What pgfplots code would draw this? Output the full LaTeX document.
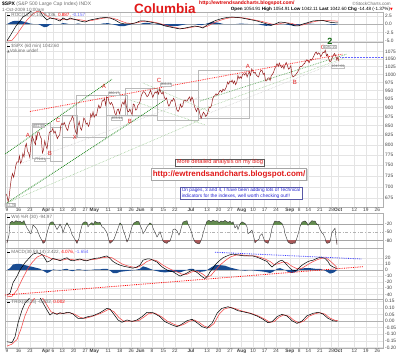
\documentclass[border=0pt]{standalone}
\usepackage{pgfplots}
\usepackage{pgfplotstable}
\pgfplotsset{compat=1.18}
\usetikzlibrary{shadows}
\usepackage{fontspec}
\setmainfont{Liberation Sans}
\newfontfamily\dejavu{DejaVu Sans}

\definecolor{gridc}{RGB}{228,228,228}
\definecolor{framec}{RGB}{175,175,175}
\definecolor{pricec}{RGB}{150,25,25}
\definecolor{navy}{RGB}{25,75,145}
\definecolor{wrgreen}{RGB}{100,140,80}
\definecolor{wrred}{RGB}{170,90,90}
\definecolor{dgreen}{RGB}{20,130,20}
\definecolor{lgreen}{RGB}{130,190,120}
\definecolor{sigred}{RGB}{245,70,70}
\definecolor{txtgray}{RGB}{110,110,110}
\definecolor{ann}{RGB}{225,25,25}
\definecolor{bluetxt}{RGB}{40,40,210}

\newcommand{\tfs}{\fontsize{4.8}{5}\selectfont}
\newcommand{\lfs}{\fontsize{4.6}{5}\selectfont}

\pgfplotsset{
  panel/.style={
    scale only axis, width=378pt, xmin=5, xmax=383,
    anchor=south west,
    axis line style={framec, line width=0.4pt},
    xtick={7,18.5,30,46.1,53,62.2,73.7,85.2,94.4,108.2,119.7,131.2,140.4,151.9,163.4,174.9,191,207.1,218.6,230.1,241.6,253.1,264.6,276.1,289.9,299.1,308.3,319.8,331.3,338.2,354.3,365.8,377.3},
    xticklabels={},
    major tick length=0pt,
    xmajorgrids, ymajorgrids,
    grid style={gridc, line width=0.35pt},
    yticklabel pos=right,
    tick label style={font=\tfs, text=black!75},
    yticklabel style={inner sep=1pt, xshift=1pt},
    xticklabel style={inner sep=1pt},
  },
  datelabels/.style={
    xticklabels={9,16,23,\textbf{Apr},6,13,20,27,\textbf{May},11,18,26,\textbf{Jun},8,15,22,\textbf{Jul},13,20,27,\textbf{Aug},10,17,24,\textbf{Sep},8,14,21,28,\textbf{Oct},12,19,26},
  },
}

% ---------------- price (trading-day index, value) ----------------
\pgfplotstableread{
x y
-0.4 684
0 680
0.5 668
0.9 676.5
1.4 700
1.9 719.6
2.4 730
2.9 721.4
3.4 735
3.9 750.7
4.4 758
4.9 756.6
5.4 772
5.9 753.9
6.4 760
6.9 778.1
7.4 770
7.9 794.4
8.4 803
8.9 784.0
9.4 779
9.9 768.5
10.4 800
10.9 822.9
11.4 815
11.9 806.1
12.4 800
12.6 826
12.9 813.9
13.4 833
13.9 832.9
14.4 822
14.9 815.9
15.4 779.8
15.9 787.5
16.4 810
16.9 797.9
17.4 790
17.9 811.1
18.4 832
18.9 834.4
19.4 835
19.9 842.5
20.4 830
20.9 835.5
21.4 825
21.9 815.6
22.4 822
22.9 825.2
23.4 850
23.9 856.6
24.4 852
24.9 858.7
25.4 850
25.9 841.5
26.4 837
26.9 852.1
27.4 861
27.9 865.3
28.4 875.6
28.9 869.6
29.4 845
29.9 832.4
30.4 828
30.9 850.1
31.4 861
31.9 843.6
32.4 838
32.9 851.9
33.4 871
33.9 866.2
34.4 854
34.9 857.5
35.4 848
35.9 855.2
36.4 882
36.9 873.6
37.4 888
37.9 872.8
38.4 880
38.9 877.5
39.4 895
39.9 907.2
40.4 898
40.9 903.8
41.4 920
41.9 919.5
42.4 926
42.9 907.4
43.4 930.2
43.9 929.2
44.4 916
44.9 909.2
45.4 915
45.9 908.4
46.4 898
46.9 883.9
47.4 879
47.9 893.1
48.4 896
48.9 882.9
49.4 895
49.9 909.7
50.4 916
50.9 908.1
51.4 924.6
51.9 903.5
52.4 890
52.9 888.3
53.4 896
53.9 887.0
54.4 880
54.9 910.3
55.4 908
55.9 893.1
56.4 894
56.9 906.8
57.4 910
57.9 919.1
58.4 935
58.9 942.9
59.4 947
59.9 944.7
60.4 938
60.9 931.8
61.4 935
61.9 942.5
62.4 951
62.9 940.1
63.4 930
63.9 939.1
64.4 946
64.9 942.4
65.4 949
65.9 939.2
66.4 956.2
66.9 944.9
67.4 940
67.9 946.2
68.4 930
68.9 923.7
69.4 928
69.9 912.0
70.4 904
70.9 910.7
71.4 921
71.9 918.4
72.4 927
72.9 921.2
73.4 905
73.9 893.0
74.4 889
74.9 895.1
75.4 910
75.9 900.9
76.4 905
76.9 920.3
77.4 922
77.9 918.9
78.4 920
78.9 927.2
79.4 931
79.9 919.3
80.4 931
80.9 923.3
81.4 906
81.9 896.4
82.4 889
82.9 898.7
83.4 895
83.9 881.0
84.4 869.3
84.9 879.6
85.4 887
85.9 882.7
86.4 875
86.9 879.1
87.4 888
87.9 901.1
88.4 900
88.9 905.8
89.4 925
89.9 932.7
90.4 935
90.9 940.7
91.4 937
91.9 940.4
92.4 948
92.9 951.1
93.4 945
93.9 954.6
94.4 950
94.9 954.1
95.4 962
95.9 976.3
96.4 970
96.9 979.3
97.4 976
97.9 982.2
98.4 972
98.9 979.6
99.4 968
99.9 975.2
100.4 996
100.9 986.8
101.4 993
101.9 987.5
102.4 1000
102.9 1002.6
103.4 998
103.9 1005.7
104.4 992
104.9 1002.7
105.4 1008
105.9 997.1
106.4 1018
106.9 1010.5
107.4 1004
107.9 1007.1
108.4 998
108.9 994.4
109.4 992
109.9 1005.8
110.4 1012.8
110.9 1012.7
111.4 1000
111.9 1004.1
112.4 980
112.9 979.7
113.4 988
113.9 989.7
114.4 981
114.9 996.5
115.4 1000
115.9 1007.4
116.4 1018
116.9 1026.1
117.4 1035
117.9 1025.6
118.4 1037
118.9 1028.0
119.4 1022
119.9 1028.1
120.4 1018
120.9 1031.0
121.4 1039
121.9 1028.9
122.4 1017
122.9 1020.6
123.4 1028
123.9 998.0
124.4 992
124.9 994.8
125.4 998
125.9 1003.2
126.4 1008
126.9 1016.4
127.4 1026
127.9 1025.4
128.4 1027
128.9 1033.4
129.4 1035
129.9 1044.1
130.4 1048
130.9 1042.7
131.4 1038
131.9 1049.3
132.4 1046
132.9 1052.6
133.4 1060
133.9 1068.8
134.4 1074
134.9 1065.5
135.4 1071
135.9 1068.3
136.4 1058
136.9 1064.7
137.4 1073
137.9 1071.7
138.4 1080.2
138.9 1060.9
139.4 1066
139.9 1050.8
140.4 1041
140.9 1044.4
141.4 1055
141.9 1063.0
142.4 1069
142.9 1060.6
143.4 1047
143.9 1057.1
144.3 1042.6
}\pricetab

% ---------------- top oscillator (px x, value) ----------------
\pgfplotstableread{
x y
7 -4.92
10 -3.52
13 -2.04
16 -0.55
20 0.93
23 2.12
27 2.86
30 3.6
33 4.2
37 4.5
40 3.9
43 2.41
47 1.23
50 1.82
55 1.52
60 0.93
63 1.82
67 1.23
70 1.82
73 1.52
77 1.23
80 0.93
85 0.63
90 1.23
95 1.52
100 1.82
105 1.97
110 1.82
115 1.23
120 0.34
125 0.04
130 0.04
135 0.34
140 0.93
145 0.93
150 0.63
155 0.34
160 0.04
165 -0.55
170 -0.85
175 -1.15
180 -1.44
185 -1.15
190 -0.85
195 -0.55
200 -0.85
203 -1.15
207 -0.26
212 0.63
217 1.23
222 1.67
227 1.97
232 2.12
237 1.97
242 1.82
247 1.52
252 1.23
257 0.93
262 0.48
267 0.04
271 -0.41
275 0.04
280 0.63
285 0.48
290 0.04
295 -0.55
298 -0.55
303 0.04
308 0.48
313 0.93
318 1.08
323 1.08
327 0.78
331 0.5
335 0.4
338 0.34
}\rocblack

\pgfplotstableread{
x y
7 -5.0
12 -4.8
17 -3.0
22 -0.8
27 1.2
32 2.8
37 3.8
42 3.5
47 2.4
52 1.7
57 1.6
62 1.3
67 1.4
72 1.5
77 1.4
82 1.2
87 0.9
92 1.1
97 1.4
102 1.7
107 1.9
112 1.8
117 1.4
122 0.8
127 0.3
132 0.2
137 0.4
142 0.8
147 0.9
152 0.7
157 0.4
162 0.0
167 -0.4
172 -0.8
177 -1.1
182 -1.3
187 -1.2
192 -0.9
197 -0.7
202 -0.9
207 -0.7
212 0.1
217 0.8
222 1.3
227 1.7
232 2.0
237 2.0
242 1.9
247 1.7
252 1.4
257 1.1
262 0.8
267 0.4
272 0.0
277 -0.1
282 0.3
287 0.4
292 0.2
297 -0.3
302 -0.3
307 0.1
312 0.6
317 0.9
322 1.05
327 1.05
332 0.98
338 0.89
}\rocred

\pgfplotstableread{
x y
7 0
10 0.5
13 0.9
17 1.0
20 1.0
23 0.8
27 0.5
30 0.2
34 0
38 0
41 -0.4
44 -0.9
47 -0.8
50 -0.2
53 0
60 0
63 0.3
66 0.2
69 0
75 0
78 0.2
82 0
100 0
103 0.2
108 0.3
112 0
116 -0.3
120 -0.6
124 -0.6
128 -0.3
132 0
140 0
143 0.3
147 0.4
151 0.2
155 0
160 -0.2
166 -0.5
172 -0.6
178 -0.5
183 -0.2
187 0
195 0
198 -0.2
202 -0.3
205 0
208 0.3
212 0.6
216 0.5
220 0.3
224 0
235 0
240 0.15
245 0.1
250 0
258 0
262 -0.3
266 -0.5
270 -0.4
274 0
280 0.1
284 0
290 -0.3
294 -0.5
298 -0.3
302 0
306 0.2
312 0.1
316 0
325 0
330 -0.1
334 -0.2
338 0
}\rochist

% ---------------- Williams %R (px x, value) ----------------
\pgfplotstableread{
x y
7 -89
9 -60
10 -16
12 -10
14 -14
16 -8
18 -12
20 -10
22 -15
24 -8
25 -18
27 -35
29 -45
30 -53
31 -55
33 -24
35 -30
37 -40
40 -67
42 -80
43 -90
45 -85
47 -52
50 -16
52 -12
53 -13
55 -25
57 -40
59 -28
60 -20
62 -35
63 -52
65 -30
67 -16
69 -30
70 -35
72 -58
74 -70
77 -90
79 -72
80 -52
82 -25
83 -16
85 -12
87 -14
88 -30
90 -20
92 -15
93 -24
95 -10
97 -15
100 -14
102 -30
104 -35
107 -52
109 -80
110 -90
112 -84
114 -75
117 -45
120 -16
122 -25
123 -40
125 -60
127 -85
129 -70
130 -55
132 -30
134 -16
137 -10
139 -12
140 -24
142 -40
143 -55
145 -45
147 -30
150 -16
152 -22
153 -35
155 -50
157 -67
159 -55
160 -48
162 -70
163 -82
165 -88
167 -90
168 -85
170 -82
172 -60
173 -40
175 -38
177 -45
179 -60
180 -50
182 -25
183 -13
185 -10
187 -8
188 -20
190 -35
192 -55
193 -70
195 -85
197 -90
199 -92
200 -88
202 -70
203 -55
205 -30
207 -10
209 -7
211 -12
213 -6
215 -10
217 -8
219 -15
221 -9
223 -12
225 -7
228 -14
230 -10
232 -18
233 -12
235 -34
237 -25
238 -40
240 -20
242 -12
245 -18
247 -30
248 -55
250 -50
252 -42
254 -70
255 -88
257 -80
259 -75
260 -62
262 -55
264 -75
265 -85
267 -88
268 -90
270 -70
272 -35
274 -15
275 -9
277 -12
279 -10
281 -15
282 -18
284 -35
285 -55
287 -75
288 -85
290 -90
292 -92
294 -88
295 -90
297 -70
299 -45
300 -30
302 -13
304 -10
305 -9
307 -16
308 -25
310 -15
312 -8
314 -10
315 -9
317 -22
318 -20
320 -40
322 -52
323 -55
325 -70
326 -85
327 -90
329 -88
330 -85
332 -50
333 -45
335 -35
336 -70
337 -95
}\wrtab

% ---------------- MACD (px x, value) ----------------
\pgfplotstableread{
x y
7 -41
10 -38
13 -21
17 -10
20 0
25 12
30 21
33 26
37 28
40 27
43 24
47 13
50 15
53 19
57 17
60 15
63 18
67 20
70 16
73 15
77 17
80 18
83 16
87 15
90 17
95 19
100 20
104 22
107 23
110 19
113 14
117 10
120 8
124 6
127 5
130 4
133 3
137 5
140 8
143 16
147 18
150 18
153 16
157 13
160 8
163 4
167 0
170 -2
173 -3
177 -7
180 -10
183 -8
187 -5
190 -2
193 0
197 -4
200 -8
203 -12
205 -14
208 -9
210 -3
213 3
215 8
218 13
220 16
223 20
227 23
230 25
233 26
237 25
240 24
245 23
250 23
253 23
257 21
260 19
264 16
267 14
270 8
272 5
275 9
277 12
280 15
282 16
285 12
287 8
290 3
292 0
295 -1
297 0
300 5
303 9
307 13
310 15
313 16
317 19
320 21
323 20
325 19
328 14
330 8
333 5
337 2.4
}\macdblack

\pgfplotstableread{
x y
7 -44
12 -43
17 -33
22 -16
27 0
32 12
37 21
42 25
47 22
52 18
57 17
62 16
67 18
72 17
77 16
82 17
87 16
92 17
97 18
102 20
107 21
112 20
117 15
122 10
127 7
132 5
137 4
142 8
147 14
152 17
157 15
162 9
167 4
172 0
177 -3
182 -7
187 -7
192 -3
197 -2
202 -6
207 -12
211 -9
215 -1
220 8
225 15
230 21
235 24
240 25
245 24
250 23
255 23
260 21
265 18
270 14
274 9
278 10
283 13
287 12
292 6
297 2
301 2
306 7
311 12
316 16
321 19
326 20
330 15
334 9
337 4.1
}\macdred

\pgfplotstableread{
x y
7 0
10 3
13 9
17 10
20 10
25 8
30 6
35 4
40 2
43 -1
47 -5
50 -3
53 1
57 0
60 -1
63 1
67 2
70 -1
73 -2
77 1
80 1
85 -1
90 0
95 1
100 1
104 2
107 2
110 -1
113 -5
117 -5
120 -3
125 -2
130 -1
135 0
140 2
143 6
147 4
150 2
155 -1
160 -3
165 -4
170 -3
175 -3
180 -4
185 -1
190 2
193 2
197 -2
200 -3
205 -2
208 1
212 5
215 8
220 8
225 7
230 4
235 2
240 0
245 -1
250 0
255 -1
260 -2
265 -3
270 -5
273 -3
277 2
280 3
285 0
288 -3
292 -5
296 -3
300 2
305 3
310 3
315 2
320 2
325 -1
330 -6
334 -4
337 0
}\macdhist

% ---------------- TRIX (px x, value) ----------------
\pgfplotstableread{
x y
7 -0.157
12 -0.164
15 -0.12
18 -0.015
22 0.083
25 0.136
28 0.159
31 0.19
35 0.21
40 0.18
43 0.136
47 0.083
50 0.045
53 0.063
57 0.05
60 0.063
63 0.055
67 0.066
70 0.063
73 0.053
78 0.02
83 0.02
88 0.033
93 0.04
100 0.063
107 0.096
110 0.09
113 0.06
118 0.008
122 -0.01
127 0.008
132 -0.003
137 0.008
142 0.033
147 0.066
153 0.063
160 0.033
165 -0.005
172 -0.03
177 -0.043
182 -0.023
187 0.002
192 0.013
197 -0.013
202 -0.043
207 -0.055
212 -0.018
217 0.058
222 0.096
228 0.108
233 0.096
238 0.078
243 0.07
250 0.058
257 0.038
263 0.013
268 -0.013
272 -0.005
277 0.033
282 0.05
287 0.038
292 0.002
297 -0.018
302 0.0
307 0.04
313 0.058
318 0.066
323 0.053
328 0.02
333 0.002
337 -0.002
}\trixblack

\pgfplotstableread{
x y
7 -0.19
12 -0.175
17 -0.14
21 -0.06
25 0.04
29 0.11
33 0.16
38 0.2
43 0.17
47 0.12
51 0.07
55 0.058
60 0.058
65 0.06
70 0.062
75 0.05
80 0.028
85 0.02
90 0.03
95 0.042
102 0.062
109 0.09
114 0.07
119 0.025
124 -0.003
129 0.0
134 -0.002
139 0.005
144 0.03
149 0.058
155 0.06
162 0.03
167 0.0
174 -0.025
179 -0.038
184 -0.025
189 -0.003
194 0.008
199 -0.01
204 -0.038
209 -0.05
214 -0.02
219 0.05
224 0.09
230 0.104
235 0.095
240 0.08
245 0.07
252 0.056
259 0.036
265 0.013
270 -0.01
274 -0.005
279 0.028
284 0.047
289 0.036
294 0.005
299 -0.015
304 0.0
309 0.036
315 0.055
320 0.063
325 0.052
330 0.022
335 0.005
338 0.002
}\trixred

\begin{document}
\begin{tikzpicture}
\useasboundingbox (0,0) rectangle (400pt,354pt);
\fill[white] (0,0) rectangle (400pt,354pt);

% ===== top oscillator =====
\begin{axis}[panel, at={(5pt,312pt)}, height=30pt, ymin=-5.3, ymax=3.6,
  ytick={2.5,0,-2.5,-5}, yticklabels={2.5,0.0,-2.5,-5.0}]
\addplot[gray!60, line width=0.4pt] coordinates {(5,0) (383,0)};
\addplot[fill=navy, draw=none] table {\rochist};
\addplot[sigred, line width=0.5pt] table {\rocred};
\addplot[black, line width=0.5pt] table {\rocblack};
\end{axis}

% ===== price =====
\begin{axis}[panel, datelabels, at={(5pt,147pt)}, height=165pt, ymode=log,
  ymin=656.5, ymax=1108.6,
  ytick={675,700,725,750,775,800,825,850,875,900,925,950,975,1000,1025,1050,1075},
  yticklabels={675,700,725,750,775,800,825,850,875,900,925,950,975,1000,1025,1050,1075}]
% boxes
\addplot[gray!55, line width=0.4pt] coordinates {(32,857) (50,857) (50,767) (32,767) (32,857)};
\addplot[gray!55, line width=0.4pt] coordinates {(50,846) (62,846) (62,760) (50,760) (50,846)};
\addplot[gray!55, line width=0.4pt] coordinates {(62,879) (77,879) (77,820) (62,820) (62,879)};
\addplot[gray!55, line width=0.4pt] coordinates {(76,937) (106,937) (106,820) (76,820) (76,937)};
\addplot[gray!55, line width=0.4pt] coordinates {(106,937) (127,937) (127,879) (106,879) (106,937)};
\addplot[gray!55, line width=0.4pt] coordinates {(125,958) (157,958) (157,879) (125,879) (125,958)};
\addplot[gray!55, line width=0.4pt] coordinates {(157,952) (198,952) (198,865) (157,865) (157,952)};
\addplot[gray!55, line width=0.4pt] coordinates {(198,1014) (249,1014) (249,871) (198,871) (198,1014)};
% trend lines
\addplot[lgreen, densely dotted, line width=0.5pt] coordinates {(7,665) (200,865)};
\addplot[gray!45, densely dotted, line width=0.5pt] coordinates {(22,755) (200,931)};
\addplot[lgreen, densely dotted, line width=0.5pt] coordinates {(143,973) (210,888)};
\addplot[lgreen, densely dotted, line width=0.5pt] coordinates {(130,922) (205,852)};
\addplot[lgreen, densely dotted, line width=0.5pt] coordinates {(200,893) (347,1057)};
\addplot[gray!45, densely dotted, line width=0.5pt] coordinates {(200,874) (337,1040)};
\addplot[dgreen, densely dotted, line width=0.8pt] coordinates {(4,775) (112,985)};
\addplot[dgreen, densely dotted, line width=0.8pt] coordinates {(7,665) (165,922)};
\addplot[dgreen!70, densely dotted, line width=0.7pt] coordinates {(200,919) (347,1067)};
\addplot[red!85, densely dotted, line width=0.8pt] coordinates {(30,889) (343,1067)};
\addplot[blue!60, densely dotted, line width=0.5pt] coordinates {(340,1057) (383,1057)};
% price
\addplot[pricec, line width=0.5pt, x filter/.expression={7+2.3*x}] table {\pricetab};
% wave labels
\begin{scope}[every node/.style={font=\fontsize{6}{6}\selectfont, text=ann, inner sep=0pt}]
\node at (axis cs:28,825) {A};
\node at (axis cs:50,779) {B};
\node at (axis cs:58,865) {C};
\node at (axis cs:75,820) {X};
\node at (axis cs:104,962) {A};
\node at (axis cs:130,862) {B};
\node at (axis cs:159,980) {C};
\node at (axis cs:248,1027) {A};
\node at (axis cs:295,974) {B};
\node at (axis cs:323,1090) {C};
\end{scope}
\begin{scope}[every node/.style={font=\fontsize{3.4}{3.5}\selectfont, text=gray!80!black, fill=white, draw=gray!50, line width=0.25pt, inner sep=0.4pt}]
\node at (axis cs:39,849) {832.98};
\node at (axis cs:40,763) {779.81};
\node at (axis cs:114,941) {930.17};
\node at (axis cs:117,869) {878.94};
\node at (axis cs:166,968) {956.23};
\node at (axis cs:330,1091) {1080.15};
\node at (axis cs:338,1025) {1042.60};
\node at (axis cs:10,661) {667.79};
\end{scope}
\end{axis}

% ===== Williams %R =====
\begin{axis}[panel, at={(5pt,106pt)}, height=35pt, ymin=-107, ymax=20,
  ytick={-20,-50,-80}, yticklabels={-20,-50,-80}, ymajorgrids=false]
\addplot[gray!70, line width=0.4pt] coordinates {(5,-20) (383,-20)};
\addplot[gray!60, dash dot, line width=0.4pt] coordinates {(5,-50) (383,-50)};
\addplot[gray!70, line width=0.4pt] coordinates {(5,-80) (383,-80)};
\begin{scope}
\clip (axis cs:5,-20) rectangle (axis cs:383,20);
\addplot[fill=wrgreen, draw=none] table {\wrtab} -- (axis cs:337,-107) -- (axis cs:7,-107) -- cycle;
\end{scope}
\begin{scope}
\clip (axis cs:5,-107) rectangle (axis cs:383,-80);
\addplot[fill=wrred, draw=none] table {\wrtab} -- (axis cs:337,20) -- (axis cs:7,20) -- cycle;
\end{scope}
\addplot[gray!40!black, line width=0.4pt] table {\wrtab};
\end{axis}

% ===== MACD =====
\begin{axis}[panel, at={(5pt,55pt)}, height=51pt, ymin=-47.5, ymax=36,
  ytick={20,10,0,-10,-20,-30,-40}, yticklabels={20,10,0,-10,-20,-30,-40}]
\addplot[gray!60, line width=0.4pt] coordinates {(5,0) (383,0)};
\addplot[fill=navy, draw=none] table {\macdhist};
\addplot[sigred, line width=0.55pt] table {\macdred};
\addplot[black, line width=0.5pt] table {\macdblack};
\addplot[red, densely dotted, line width=0.8pt] coordinates {(5,-41) (363,5.4)};
\addplot[blue!80, densely dotted, line width=0.8pt] coordinates {(215,29) (362,18)};
\end{axis}

% ===== TRIX =====
\begin{axis}[panel, datelabels, at={(5pt,6pt)}, height=49pt, ymin=-0.2045, ymax=0.1667,
  ytick={0.15,0.10,0.05,0,-0.05,-0.10,-0.15,-0.20},
  yticklabels={0.15,0.10,0.05,0.00,-0.05,-0.10,-0.15,-0.20}]
\addplot[gray!60, line width=0.4pt] coordinates {(5,0) (383,0)};
\addplot[sigred, line width=0.55pt] table {\trixred};
\addplot[black, line width=0.5pt] table {\trixblack};
\end{axis}

% ===== header =====
\node[anchor=west, font=\fontsize{5}{6}\selectfont, inner sep=0pt] at (2pt,350.3pt)
  {\textbf{\$SPX} \textcolor{txtgray}{(S\&P 500 Large Cap Index) INDX}};
\node[anchor=west, font=\lfs, text=txtgray, inner sep=0pt] at (2pt,344.5pt) {1-Oct-2009 10:00am};
\node[font=\fontsize{13.5}{14}\selectfont\bfseries, text=ann, inner sep=0pt] at (165pt,345pt) {Columbia};
\node[anchor=west, font=\fontsize{5}{6}\selectfont\bfseries, text=red!85!black, inner sep=0pt] at (199pt,350.5pt) {http://ewtrendsandcharts.blogspot.com/};
\node[anchor=east, font=\lfs, text=txtgray, inner sep=0pt] at (391pt,350.3pt) {\copyright StockCharts.com};
\node[anchor=east, font=\lfs, inner sep=0pt] at (393pt,344.5pt)
  {\textbf{Open} 1054.91 \textbf{High} 1054.91 \textbf{Low} 1042.11 \textbf{Last} 1042.60 \textbf{Chg} -14.48 (-1.37\%)\textcolor{red}{\dejavu\fontsize{3.5}{4}\selectfont ▼}};

% panel labels
\node[anchor=west, font=\lfs, inner sep=0pt] at (7pt,338.5pt)
  {\textcolor{black}{\rule[1pt]{3pt}{0.5pt}} \textcolor{txtgray}{ROC(13,50,14)} \textcolor{txtgray}{0.336,} \textcolor{red}{0.887,} \textcolor{blue!60}{-0.157}};
\node[anchor=west, font=\lfs, text=txtgray, inner sep=0pt] at (7pt,308pt)
  {\textcolor{black}{\rule[1pt]{3pt}{0.5pt}} \$SPX (60 min) 1042.60};
\node[anchor=west, font=\lfs, text=txtgray, inner sep=0pt] at (7pt,302.5pt)
  {{\dejavu\fontsize{3.5}{4}\selectfont ▲}Volume undef};
\node[anchor=west, font=\lfs, text=txtgray, inner sep=0pt] at (7pt,137pt)
  {\textcolor{black}{\rule[1pt]{3pt}{0.5pt}} Wm \%R (30) -94.97};
\node[anchor=west, font=\lfs, text=txtgray, inner sep=0pt] at (7pt,102pt)
  {\textcolor{black}{\rule[1pt]{3pt}{0.5pt}} MACD(30,59,14) 2.422, \textcolor{red}{4.076,} \textcolor{blue!60}{-1.654}};
\node[anchor=west, font=\lfs, text=txtgray, inner sep=0pt] at (7pt,52pt)
  {\textcolor{black}{\rule[1pt]{3pt}{0.5pt}} TRIX(30,24) -0.002, \textcolor{red}{0.002}};

% wave 2
\node[font=\fontsize{9}{9}\selectfont\bfseries, text=dgreen!80!black, inner sep=0pt] at (330pt,313pt) {2};

% text boxes
\node[draw=gray!70!black, fill=white, line width=0.4pt, inner xsep=1.5pt, inner ysep=1pt,
  font=\fontsize{5.7}{6}\selectfont, text=ann,
  drop shadow={shadow xshift=0.7pt, shadow yshift=-0.7pt, fill=gray!70}] at (220pt,191.5pt) {More detailed analysis on my blog};
\node[draw=gray!70, fill=white, line width=0.5pt, inner xsep=1.5pt, inner ysep=2.5pt,
  font=\fontsize{8}{8}\selectfont\bfseries, text=ann,
  drop shadow={shadow xshift=0.8pt, shadow yshift=-0.8pt, fill=gray!60}] at (229pt,180pt) {http://ewtrendsandcharts.blogspot.com/};
\node[draw=gray!70!blue, fill=white, line width=0.4pt, inner xsep=2pt, inner ysep=1pt,
  font=\fontsize{4.8}{5.6}\selectfont, text=bluetxt, align=left,
  drop shadow={shadow xshift=0.7pt, shadow yshift=-0.7pt, fill=gray!60}] at (241pt,160.5pt)
  {On pages, 3 and 4, I have been adding lots of Technical\\indicators for the indexes, well worth checking out!!};
\end{tikzpicture}
\end{document}
